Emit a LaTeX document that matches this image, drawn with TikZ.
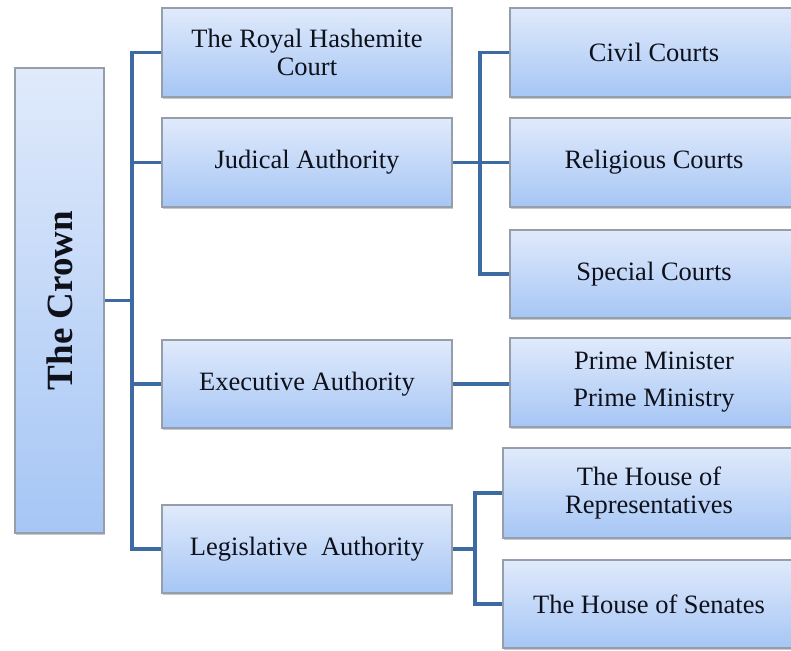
\documentclass[tikz,border=0pt]{standalone}
\usepackage{fontspec}
\setmainfont{Liberation Serif}
\usetikzlibrary{shadows,backgrounds}
\definecolor{boxtop}{RGB}{224,234,251}
\definecolor{boxbot}{RGB}{166,198,245}
\definecolor{boxedge}{RGB}{150,158,172}
\definecolor{conncol}{RGB}{62,106,162}
\definecolor{txtcol}{RGB}{14,16,26}
\tikzset{
  orgbox/.style={rectangle, anchor=north west, inner sep=0pt, outer sep=0pt,
    draw=boxedge, line width=1.1pt, top color=boxtop, bottom color=boxbot,
    drop shadow={shadow xshift=1.2pt, shadow yshift=-2pt, opacity=0.35, fill=black!60},
    text=txtcol, align=center,
    font=\fontsize{26.5}{28}\selectfont},
  conn/.style={draw=conncol, line width=3.2pt, line cap=rect, line join=miter}
}
\begin{document}
\begin{tikzpicture}[x=1pt,y=-1pt]
\useasboundingbox (0,0) rectangle (791,650);
% root
\node[orgbox, minimum width=89pt, minimum height=465pt] (crown) at (15,68) {};
\node[rotate=90, font=\fontsize{37}{40}\selectfont\bfseries, text=txtcol] (crowntxt) at (crown.center) {The Crown};
% level 1
\node[orgbox, minimum width=290pt, minimum height=89pt] (royal) at (162,8) {The Royal Hashemite\\Court};
\node[orgbox, minimum width=290pt, minimum height=89pt] (judical) at (162,118) {Judical Authority};
\node[orgbox, minimum width=290pt, minimum height=88pt] (exec) at (162,340) {Executive Authority};
\node[orgbox, minimum width=290pt, minimum height=88pt] (legis) at (162,505) {Legislative\ \ Authority};
% level 2
\node[orgbox, minimum width=288pt, minimum height=89pt] (civil) at (510,8) {Civil Courts};
\node[orgbox, minimum width=288pt, minimum height=89pt] (relig) at (510,118) {Religious Courts};
\node[orgbox, minimum width=288pt, minimum height=88pt] (special) at (510,230) {Special Courts};
\node[orgbox, minimum width=288pt, minimum height=89pt] (prime) at (510,338) {Prime Minister\\[9pt]Prime Ministry};
\node[orgbox, minimum width=292pt, minimum height=90pt] (reps) at (503,448) {The House of\\Representatives};
\node[orgbox, minimum width=292pt, minimum height=88pt] (senates) at (503,560) {The House of Senates};
% connector coordinates
\coordinate (t) at (132,0);
\coordinate (j) at (480,0);
\coordinate (l) at (475,0);
\begin{pgfonlayer}{background}
\fill[white] (0,0) rectangle (791,650);
% trunk
\draw[conn] (royal.west) -- (royal.west -| t) -- (legis.west -| t) -- (legis.west);
\draw[conn] (crown.east) -- (crown.east -| t);
\draw[conn] (judical.west) -- (judical.west -| t);
\draw[conn] (exec.west) -- (exec.west -| t);
% judicial
\draw[conn] (civil.west) -- (civil.west -| j) -- (special.west -| j) -- (special.west);
\draw[conn] (judical.east) -- (relig.west);
% executive
\draw[conn] (exec.east) -- (exec.east -| prime.west);
% legislative
\draw[conn] (reps.west) -- (reps.west -| l) -- (senates.west -| l) -- (senates.west);
\draw[conn] (legis.east) -- (legis.east -| l);
\end{pgfonlayer}
\end{tikzpicture}
\end{document}
